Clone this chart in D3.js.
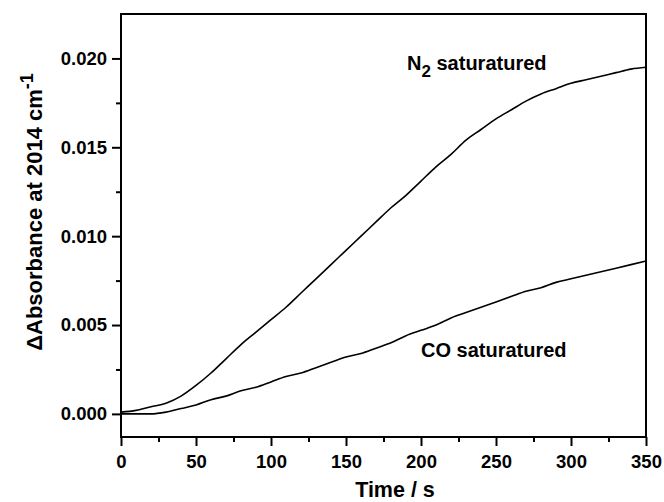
<!DOCTYPE html>
<html><head><meta charset="utf-8">
<script src="https://cdn.jsdelivr.net/npm/d3@7"></script>
<style>body{margin:0;background:#fff}svg{display:block}text{font-family:"Liberation Sans",Arial,sans-serif;font-weight:bold;fill:#000}</style>
</head><body>
<svg id="c" width="664" height="502"></svg>
<script>
const times = [0,10,20,30,40,50,60,70,80,90,100,110,120,130,140,150,160,170,180,190,200,210,220,230,240,250,260,270,280,290,300,310,320,330,340,350];
const n2Values = [0.0001,0.0002,0.0004,0.0006,0.0010,0.0016,0.0023,0.0031,0.0039,0.0046,0.0053,0.0060,0.0068,0.0076,0.0084,0.0092,0.0100,0.0108,0.0116,0.0123,0.0131,0.0139,0.0146,0.0154,0.0160,0.0166,0.0171,0.0176,0.0180,0.0183,0.0186,0.0188,0.0190,0.0192,0.0194,0.0195];
const coValues = [0.0000,0.0000,0.0000,0.0001,0.0003,0.0005,0.0008,0.0010,0.0013,0.0015,0.0018,0.0021,0.0023,0.0026,0.0029,0.0032,0.0034,0.0037,0.0040,0.0044,0.0047,0.0050,0.0054,0.0057,0.0060,0.0063,0.0066,0.0069,0.0071,0.0074,0.0076,0.0078,0.0080,0.0082,0.0084,0.0086];
const xTicks = [0,50,100,150,200,250,300,350];
const xMinor = [25,75,125,175,225,275,325];
const yTicks = [0.000,0.005,0.010,0.015,0.020];
const yMinor = [0.0025,0.0075,0.0125,0.0175];

const svg = d3.select("#c");
const L=121,R=646,T=14,B=437;
const x = d3.scaleLinear().domain([0,350]).range([L,R]);
const y = d3.scaleLinear().domain([-0.0013,0.0225]).range([B,T]);

// minor ticks
svg.append("g").attr("transform",`translate(0,${B})`)
  .call(d3.axisBottom(x).tickValues(xMinor).tickSize(5).tickFormat(""))
  .call(g=>{g.select(".domain").remove();g.selectAll("line").attr("stroke-width",2);});
svg.append("g").attr("transform",`translate(${L},0)`)
  .call(d3.axisLeft(y).tickValues(yMinor).tickSize(5).tickFormat(""))
  .call(g=>{g.select(".domain").remove();g.selectAll("line").attr("stroke-width",2);});
// major
svg.append("g").attr("transform",`translate(0,${B})`)
  .call(d3.axisBottom(x).tickValues(xTicks).tickSize(9).tickPadding(9).tickFormat(d3.format("d")))
  .call(g=>{g.select(".domain").remove();g.selectAll("line").attr("stroke-width",2);
    g.selectAll("text").style("font-size","18.5px").attr("font-family",null);});
svg.append("g").attr("transform",`translate(${L},0)`)
  .call(d3.axisLeft(y).tickValues(yTicks).tickSize(9).tickPadding(5).tickFormat(d3.format(".3f")))
  .call(g=>{g.select(".domain").remove();g.selectAll("line").attr("stroke-width",2);
    g.selectAll("text").style("font-size","18.5px").attr("font-family",null);});

// frame
svg.append("rect").attr("x",L).attr("y",T).attr("width",R-L).attr("height",B-T)
  .attr("fill","none").attr("stroke","#000").attr("stroke-width",2);

const line = d3.line().x((d,i)=>x(times[i])).y(d=>y(d)).curve(d3.curveMonotoneX);
[n2Values,coValues].forEach(v=>{
  svg.append("path").datum(v).attr("d",line).attr("fill","none")
    .attr("stroke","#000").attr("stroke-width",1.6).attr("stroke-linejoin","round");
});

// annotations
const t1 = svg.append("text").attr("x",407).attr("y",70).style("font-size","20px");
t1.append("tspan").text("N");
t1.append("tspan").attr("dy",7).style("font-size","17px").text("2");
t1.append("tspan").attr("dy",-7).text(" saturatured");
svg.append("text").attr("x",421).attr("y",357).style("font-size","20px").text("CO saturatured");

// axis titles
svg.append("text").attr("x",395).attr("y",497).attr("text-anchor","middle").style("font-size","21.5px").text("Time / s");
const yt = svg.append("text").attr("transform","translate(42,212) rotate(-90)").attr("text-anchor","middle").style("font-size","22px");
yt.append("tspan").text("ΔAbsorbance at 2014 cm");
yt.append("tspan").attr("dy",-9).style("font-size","18px").text("-1");
</script>
</body></html>
